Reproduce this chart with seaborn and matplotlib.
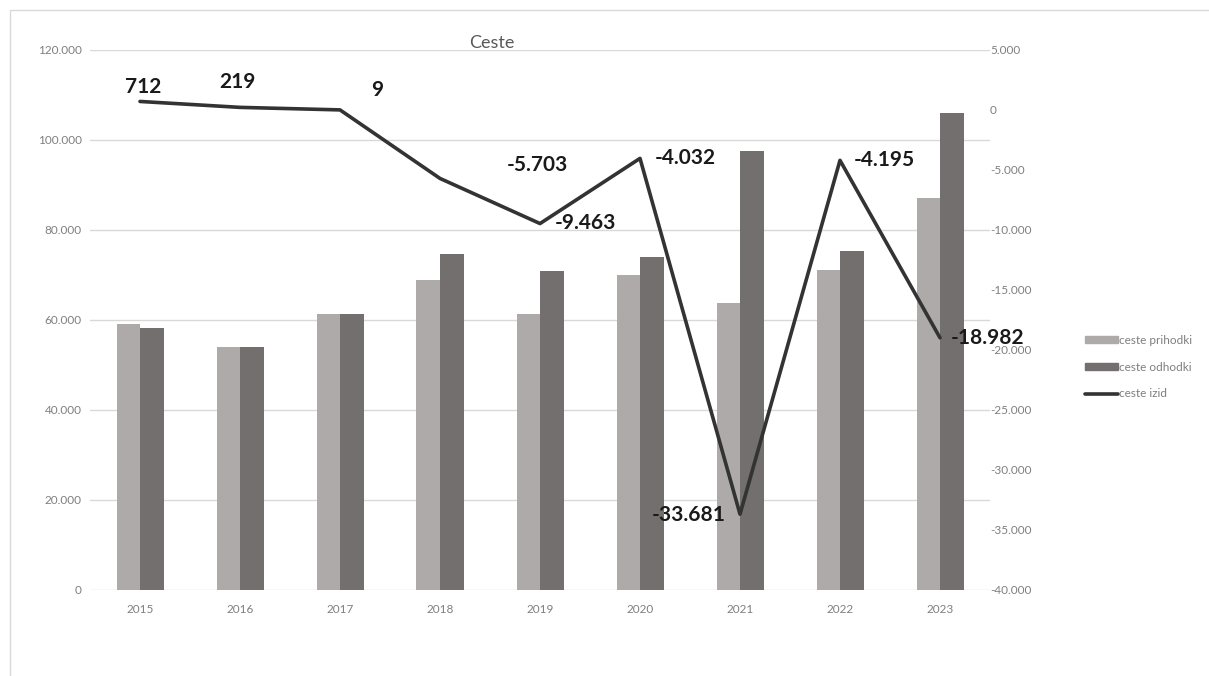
import pandas as pd
import seaborn as sns
import matplotlib.pyplot as plt
import matplotlib.patches as mpatches
import numpy as np
from matplotlib.ticker import FuncFormatter, MultipleLocator

years = ['2015', '2016', '2017', '2018', '2019', '2020', '2021', '2022', '2023']
prihodki = [59.0, 54.1, 61.4, 68.9, 61.3, 69.9, 63.8, 71.1, 87.0]      # thousands
odhodki = [58.3, 53.9, 61.4, 74.6, 70.8, 73.9, 97.5, 75.3, 106.0]      # thousands
izid = [712, 219, 9, -5703, -9463, -4032, -33681, -4195, -18982]

# label offsets in pixels (the labels were moved by hand in the original)
label_dx = [3, -3, 37, 97, 45, 45, -51, 44, 48]
label_dy = [14, 25, 20, 13, 1, 0, -1, 0, 0]

df = pd.DataFrame({'leto': years,
                   'ceste prihodki': np.array(prihodki) * 1000,
                   'ceste odhodki': np.array(odhodki) * 1000})
long_df = df.melt(id_vars='leto', var_name='serija', value_name='vrednost')

sns.set_style('white')
plt.rcParams['font.family'] = ['Lato', 'DejaVu Sans']

fig = plt.figure(figsize=(12.09, 6.76), dpi=100)
ax = fig.add_axes([90 / 1209, 1 - 590 / 676, 900 / 1209, 540 / 676])

col_pri = '#aeaaa9'
col_odh = '#736f6e'
grey_txt = '#7f7f7f'

sns.barplot(data=long_df, x='leto', y='vrednost', hue='serija', ax=ax,
            palette=[col_pri, col_odh], width=0.47, gap=0, saturation=1,
            edgecolor='none', legend=False)

thousands = FuncFormatter(lambda v, p: f'{int(round(v)):,}'.replace(',', '.'))
ax.set_ylim(0, 120000)
ax.yaxis.set_major_locator(MultipleLocator(20000))
ax.yaxis.set_major_formatter(thousands)
ax.set_xlim(-0.5, len(years) - 0.5)
ax.grid(axis='y', color='#d9d9d9', linewidth=1)
ax.set_axisbelow(True)
for s in ax.spines.values():
    s.set_visible(False)
ax.set_xlabel('')
ax.set_ylabel('')
ax.tick_params(axis='both', length=0, labelsize=8.5, labelcolor=grey_txt)
ax.tick_params(axis='y', pad=6)
ax.tick_params(axis='x', pad=10)

ax2 = ax.twinx()
xs = np.arange(len(years))
sns.lineplot(x=xs, y=izid, ax=ax2, color='#333333', linewidth=2.6)
ax2.set_ylim(-40000, 5000)
ax2.yaxis.set_major_locator(MultipleLocator(5000))
ax2.yaxis.set_major_formatter(thousands)
for s in ax2.spines.values():
    s.set_visible(False)
ax2.tick_params(axis='y', length=0, labelsize=8.5, labelcolor=grey_txt, pad=0)
ax2.set_ylabel('')

for i, v in enumerate(izid):
    ax2.annotate(f'{v:,}'.replace(',', '.'), (xs[i], v),
                 xytext=(label_dx[i] * 0.72, label_dy[i] * 0.72),
                 textcoords='offset points', ha='center', va='center',
                 fontsize=15, fontweight='bold', color='#1a1a1a')

fig.text(492 / 1209, 1 - 43 / 676, 'Ceste', ha='center', va='center',
         fontsize=13, color='#595959')

handles = [mpatches.Patch(color=col_pri, label='ceste prihodki'),
           mpatches.Patch(color=col_odh, label='ceste odhodki'),
           plt.Line2D([], [], color='#333333', linewidth=2.6, label='ceste izid')]
fig.legend(handles=handles, loc='center left', bbox_to_anchor=(1074 / 1209, 1 - 367 / 676),
           frameon=False, fontsize=8.5, labelcolor=grey_txt, handlelength=2.8,
           handleheight=0.5, handletextpad=0.1, labelspacing=1.35)

# outer chart frame
fig.add_artist(mpatches.Rectangle((10 / 1209, -0.1), 1.2, 1.1 - 10 / 676,
                                  transform=fig.transFigure, fill=False,
                                  edgecolor='#d9d9d9', linewidth=1))

fig.savefig('out.png', dpi=100)
